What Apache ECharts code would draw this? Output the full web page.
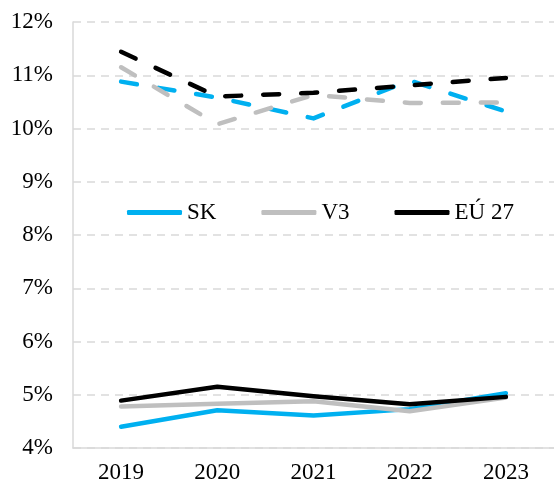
<!DOCTYPE html>
<html>
<head>
<meta charset="utf-8">
<script src="https://cdn.jsdelivr.net/npm/echarts@6/dist/echarts.min.js"></script>
<style>
  html, body { margin: 0; padding: 0; background: #fff; }
  #chart { width: 554px; height: 486px; }
</style>
</head>
<body>
<div id="chart"></div>
<script>
const years = ['2019', '2020', '2021', '2022', '2023']

// lower group (solid lines)
const skLow = [4.40, 4.71, 4.61, 4.73, 5.03]
const v3Low = [4.78, 4.83, 4.88, 4.69, 4.95]
const euLow = [4.89, 5.15, 4.97, 4.82, 4.96]

// upper group (dashed lines)
const skHigh = [10.88, 10.58, 10.19, 10.90, 10.32]
const v3High = [11.15, 10.08, 10.63, 10.48, 10.49]
const euHigh = [11.44, 10.60, 10.67, 10.81, 10.95]

const blue = '#00B0F0'
const gray = '#BFBFBF'
const black = '#000000'
const font = "'Liberation Serif', 'Times New Roman', serif"

const chart = echarts.init(document.getElementById('chart'))

const solid = (name, data, color) => ({
  name,
  type: 'line',
  data,
  symbol: 'none',
  z: 3,
  lineStyle: { color, width: 4.5, cap: 'round', join: 'round' },
  itemStyle: { color }
})

const dashed = (name, data, color) => ({
  name,
  type: 'line',
  data,
  symbol: 'none',
  z: 3,
  lineStyle: { color, width: 4.5, type: [16, 22], cap: 'round', join: 'round' },
  itemStyle: { color }
})

chart.setOption({
  animation: false,
  backgroundColor: '#fff',
  grid: { left: 73, right: -9, top: 22, bottom: 38, containLabel: false },
  legend: {
    data: ['SK', 'V3', 'EÚ 27'],
    icon: 'roundRect',
    left: 122,
    top: 196,
    itemWidth: 55,
    itemHeight: 5,
    itemGap: 45,
    textStyle: { fontFamily: font, fontSize: 23, color: '#000' }
  },
  xAxis: {
    type: 'category',
    data: years,
    boundaryGap: true,
    axisLine: { lineStyle: { color: '#D9D9D9', width: 1.5 } },
    axisTick: { show: false },
    axisLabel: { fontFamily: font, fontSize: 23, color: '#000', margin: 13 }
  },
  yAxis: {
    type: 'value',
    min: 4,
    max: 12,
    interval: 1,
    axisLine: { show: true, lineStyle: { color: '#D9D9D9', width: 1.5 } },
    axisTick: { show: false },
    splitLine: { lineStyle: { color: '#D9D9D9', width: 1.5, type: [8, 6] } },
    axisLabel: {
      fontFamily: font, fontSize: 23, color: '#000', margin: 20,
      formatter: '{value}%'
    }
  },
  series: [
    solid('SK', skLow, blue),
    solid('V3', v3Low, gray),
    solid('EÚ 27', euLow, black),
    dashed('SK dashed', skHigh, blue),
    dashed('V3 dashed', v3High, gray),
    dashed('EÚ 27 dashed', euHigh, black)
  ]
})
</script>
</body>
</html>
